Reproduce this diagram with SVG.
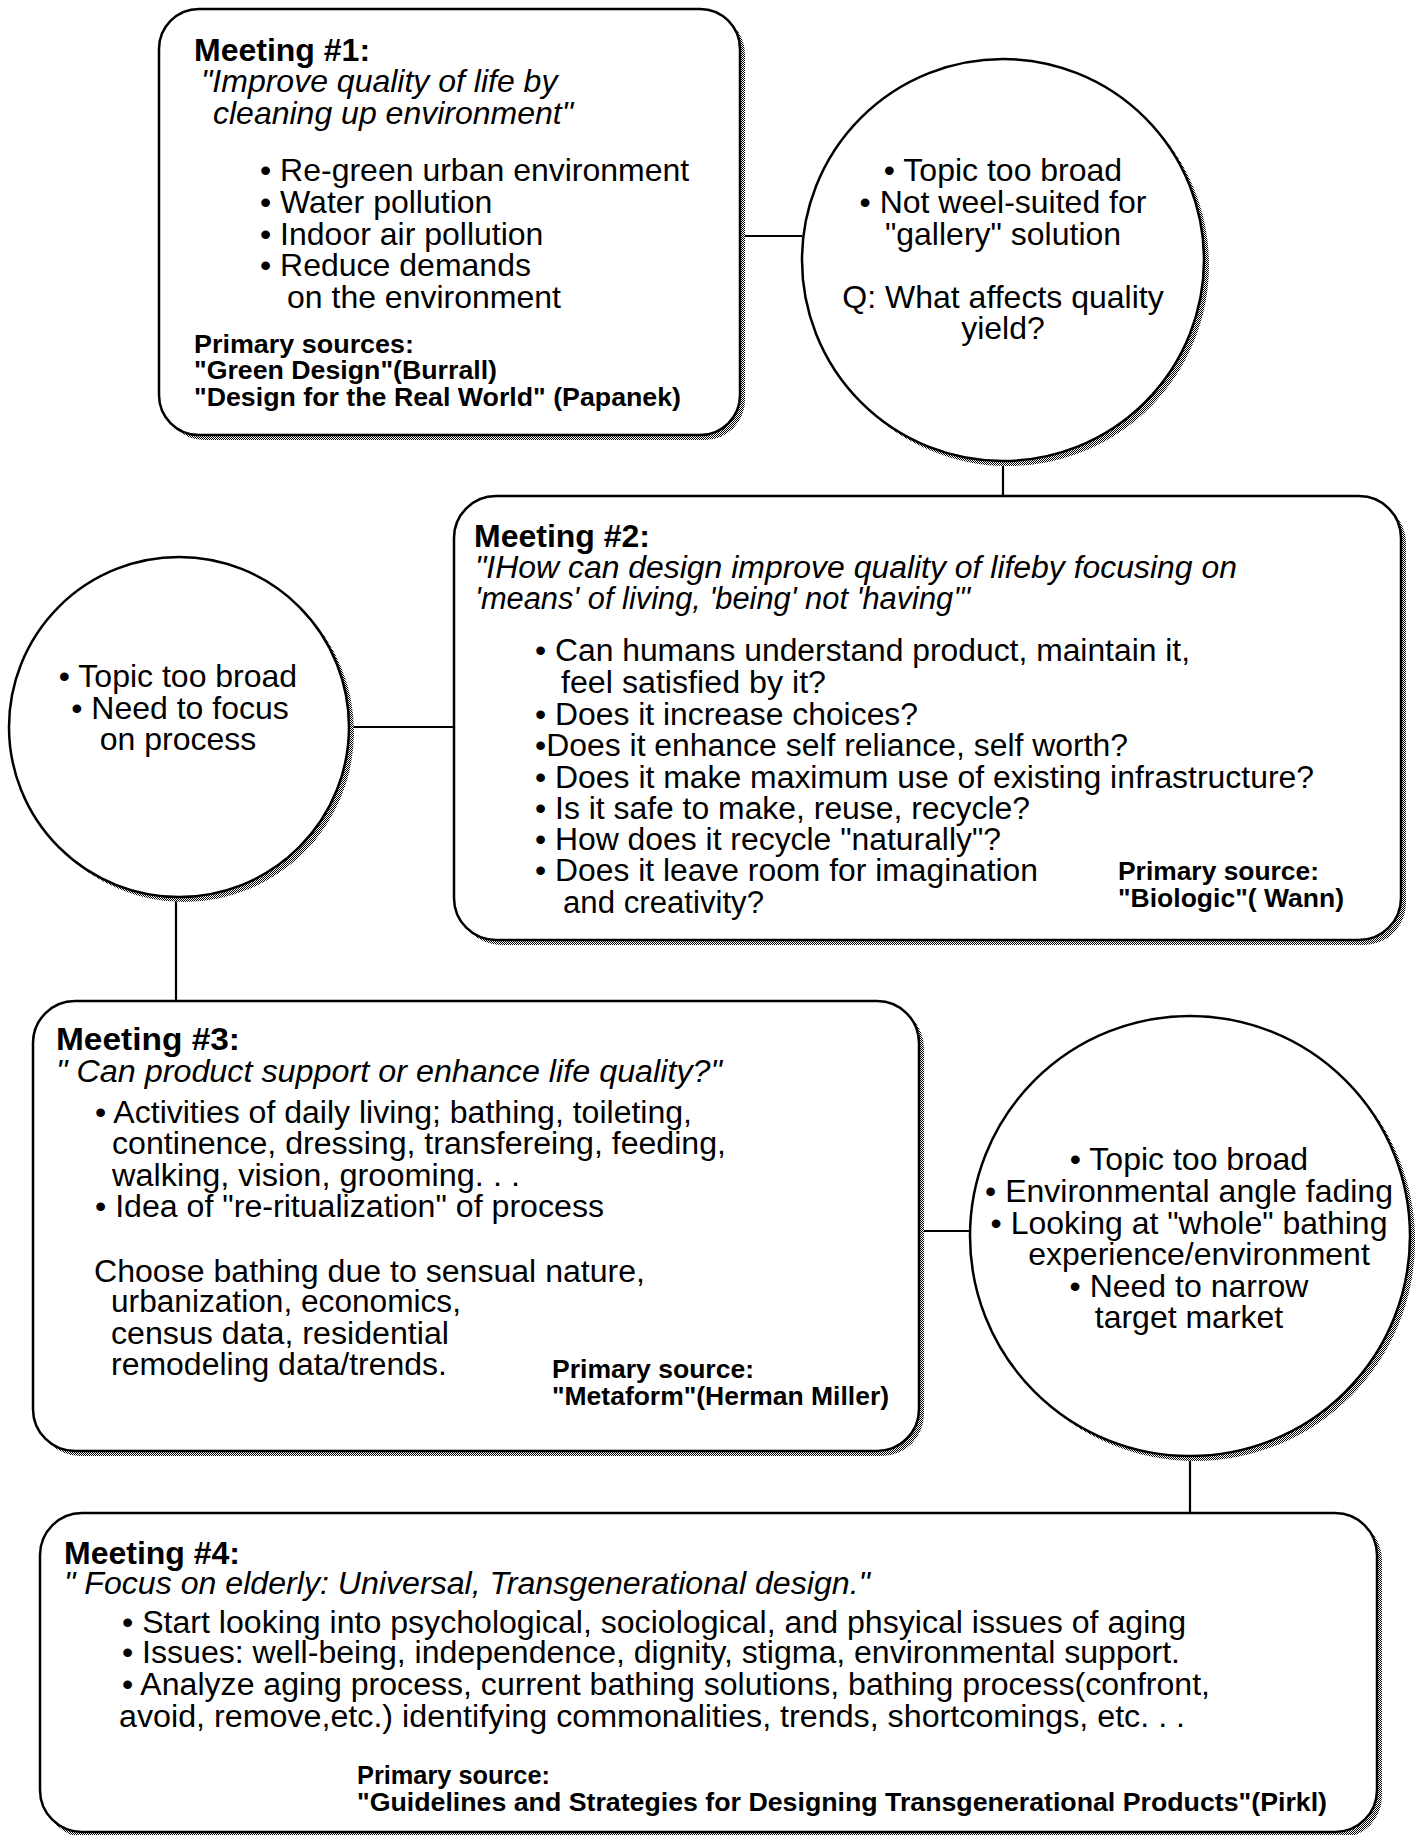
<svg xmlns="http://www.w3.org/2000/svg" width="1421" height="1835" viewBox="0 0 1421 1835">
<defs>
<pattern id="dither" width="2" height="2" patternUnits="userSpaceOnUse">
<rect width="2" height="2" fill="#fff"/>
<rect x="0" y="0" width="1" height="1" fill="#000"/>
<rect x="1" y="1" width="1" height="1" fill="#000"/>
</pattern>
<style>
.shape{fill:#fff;stroke:#000;stroke-width:2.5}
.shadow{fill:url(#dither);stroke:none}
.conn{stroke:#000;stroke-width:2.2;fill:none}
text{font-family:"Liberation Sans",Arial,Helvetica,sans-serif;fill:#000}
.n{font-size:32px}
.c{font-size:31px}
.b{font-weight:bold}
.i{font-style:italic}
.s{font-size:25px;font-weight:bold}
.m{text-anchor:middle}
</style>
</defs>
<rect width="1421" height="1835" fill="#fff"/>

<g id="connectors">
<line class="conn" x1="740" y1="236" x2="802" y2="236"/>
<line class="conn" x1="1003" y1="461" x2="1003" y2="496"/>
<line class="conn" x1="349" y1="727" x2="454" y2="727"/>
<line class="conn" x1="176" y1="897" x2="176" y2="1001"/>
<line class="conn" x1="919" y1="1231" x2="970" y2="1231"/>
<line class="conn" x1="1190" y1="1456" x2="1190" y2="1513"/>
</g>

<g id="meeting1">
<rect class="shadow" x="164" y="14" width="581" height="426" rx="40"/>
<rect class="shape" x="159" y="9" width="581" height="426" rx="40"/>
<text class="b" x="194" y="61" font-size="32">Meeting #1:</text>
<text class="n i" x="201" y="92">"Improve quality of life by</text>
<text class="n i" x="213" y="124">cleaning up environment"</text>
<text class="n" x="260" y="181">• Re-green urban environment</text>
<text class="n" x="260" y="213">• Water pollution</text>
<text class="n" x="260" y="245">• Indoor air pollution</text>
<text class="n" x="260" y="276">• Reduce demands</text>
<text class="n" x="287" y="308">on the environment</text>
<text class="s" x="194" y="353" textLength="220" lengthAdjust="spacingAndGlyphs">Primary sources:</text>
<text class="s" x="194" y="379" textLength="303" lengthAdjust="spacingAndGlyphs">"Green Design"(Burrall)</text>
<text class="s" x="194" y="406" textLength="487" lengthAdjust="spacingAndGlyphs">"Design for the Real World" (Papanek)</text>
</g>

<g id="feedback1">
<circle class="shadow" cx="1008" cy="265" r="201"/>
<circle class="shape" cx="1003" cy="260" r="201"/>
<text class="n m" x="1003" y="181">• Topic too broad</text>
<text class="n m" x="1003" y="213">• Not weel-suited for</text>
<text class="n m" x="1003" y="245">"gallery" solution</text>
<text class="n m" x="1003" y="308">Q: What affects quality</text>
<text class="n m" x="1003" y="339">yield?</text>
</g>

<g id="meeting2">
<rect class="shadow" x="459" y="501" width="947" height="444" rx="42"/>
<rect class="shape" x="454" y="496" width="947" height="444" rx="42"/>
<text class="c b" x="474" y="547" textLength="176" lengthAdjust="spacingAndGlyphs">Meeting #2:</text>
<text class="c i" x="475" y="578" textLength="762" lengthAdjust="spacingAndGlyphs">"IHow can design improve quality of lifeby focusing on</text>
<text class="c i" x="475" y="609" textLength="495" lengthAdjust="spacingAndGlyphs">'means' of living, 'being' not 'having'"</text>
<text class="c" x="535" y="661" textLength="655" lengthAdjust="spacingAndGlyphs">• Can humans understand product, maintain it,</text>
<text class="c" x="561" y="693" textLength="265" lengthAdjust="spacingAndGlyphs">feel satisfied by it?</text>
<text class="c" x="535" y="725" textLength="383" lengthAdjust="spacingAndGlyphs">• Does it increase choices?</text>
<text class="c" x="535" y="756" textLength="593" lengthAdjust="spacingAndGlyphs">•Does it enhance self reliance, self worth?</text>
<text class="c" x="535" y="788" textLength="779" lengthAdjust="spacingAndGlyphs">• Does it make maximum use of existing infrastructure?</text>
<text class="c" x="535" y="819" textLength="495" lengthAdjust="spacingAndGlyphs">• Is it safe to make, reuse, recycle?</text>
<text class="c" x="535" y="850" textLength="466" lengthAdjust="spacingAndGlyphs">• How does it recycle "naturally"?</text>
<text class="c" x="535" y="881" textLength="503" lengthAdjust="spacingAndGlyphs">• Does it leave room for imagination</text>
<text class="c" x="563" y="913" textLength="201" lengthAdjust="spacingAndGlyphs">and creativity?</text>
<text class="s" x="1118" y="880" textLength="201" lengthAdjust="spacingAndGlyphs">Primary source:</text>
<text class="s" x="1118" y="907" textLength="226" lengthAdjust="spacingAndGlyphs">"Biologic"( Wann)</text>
</g>

<g id="feedback2">
<circle class="shadow" cx="184" cy="732" r="170"/>
<circle class="shape" cx="179" cy="727" r="170"/>
<text class="n m" x="178" y="687">• Topic too broad</text>
<text class="n m" x="180" y="719">• Need to focus</text>
<text class="n m" x="178" y="750">on process</text>
</g>

<g id="meeting3">
<rect class="shadow" x="38" y="1006" width="886" height="450" rx="42"/>
<rect class="shape" x="33" y="1001" width="886" height="450" rx="42"/>
<text class="c b" x="56" y="1050" textLength="184" lengthAdjust="spacingAndGlyphs">Meeting #3:</text>
<text class="c i" x="56" y="1082" textLength="666" lengthAdjust="spacingAndGlyphs">" Can product support or enhance life quality?"</text>
<text class="c" x="95" y="1123" textLength="597" lengthAdjust="spacingAndGlyphs">• Activities of daily living; bathing, toileting,</text>
<text class="c" x="112" y="1154" textLength="614" lengthAdjust="spacingAndGlyphs">continence, dressing, transfereing, feeding,</text>
<text class="c" x="112" y="1186" textLength="408" lengthAdjust="spacingAndGlyphs">walking, vision, grooming. . .</text>
<text class="c" x="95" y="1217" textLength="509" lengthAdjust="spacingAndGlyphs">• Idea of "re-ritualization" of process</text>
<text class="c" x="94" y="1282" textLength="551" lengthAdjust="spacingAndGlyphs">Choose bathing due to sensual nature,</text>
<text class="c" x="111" y="1312" textLength="350" lengthAdjust="spacingAndGlyphs">urbanization, economics,</text>
<text class="c" x="111" y="1344" textLength="338" lengthAdjust="spacingAndGlyphs">census data, residential</text>
<text class="c" x="111" y="1375" textLength="336" lengthAdjust="spacingAndGlyphs">remodeling data/trends.</text>
<text class="s" x="552" y="1378" textLength="202" lengthAdjust="spacingAndGlyphs">Primary source:</text>
<text class="s" x="552" y="1405" textLength="337" lengthAdjust="spacingAndGlyphs">"Metaform"(Herman Miller)</text>
</g>

<g id="feedback3">
<circle class="shadow" cx="1195" cy="1241" r="220"/>
<circle class="shape" cx="1190" cy="1236" r="220"/>
<text class="n m" x="1189" y="1170">• Topic too broad</text>
<text class="n m" x="1189" y="1202">• Environmental angle fading</text>
<text class="n m" x="1189" y="1234">• Looking at "whole" bathing</text>
<text class="n m" x="1199" y="1265">experience/environment</text>
<text class="n m" x="1189" y="1297">• Need to narrow</text>
<text class="n m" x="1189" y="1328">target market</text>
</g>

<g id="meeting4">
<rect class="shadow" x="45" y="1518" width="1337" height="320" rx="42"/>
<rect class="shape" x="40" y="1513" width="1337" height="319" rx="42"/>
<text class="b" x="64" y="1564" font-size="31" textLength="176" lengthAdjust="spacingAndGlyphs">Meeting #4:</text>
<text class="i" x="64" y="1594" font-size="31" textLength="806" lengthAdjust="spacingAndGlyphs">" Focus on elderly: Universal, Transgenerational design."</text>
<text x="122" y="1633" font-size="31" textLength="1064" lengthAdjust="spacingAndGlyphs">• Start looking into psychological, sociological, and phsyical issues of aging</text>
<text x="122" y="1663" font-size="31" textLength="1058" lengthAdjust="spacingAndGlyphs">• Issues: well-being, independence, dignity, stigma, environmental support.</text>
<text x="122" y="1695" font-size="31" textLength="1088" lengthAdjust="spacingAndGlyphs">• Analyze aging process, current bathing solutions, bathing process(confront,</text>
<text x="119" y="1727" font-size="31" textLength="1066" lengthAdjust="spacingAndGlyphs">avoid, remove,etc.) identifying commonalities, trends, shortcomings, etc. . .</text>
<text class="s" x="357" y="1784" textLength="193" lengthAdjust="spacingAndGlyphs">Primary source:</text>
<text class="s" x="357" y="1811" textLength="970" lengthAdjust="spacingAndGlyphs">"Guidelines and Strategies for Designing Transgenerational Products"(Pirkl)</text>
</g>
</svg>
